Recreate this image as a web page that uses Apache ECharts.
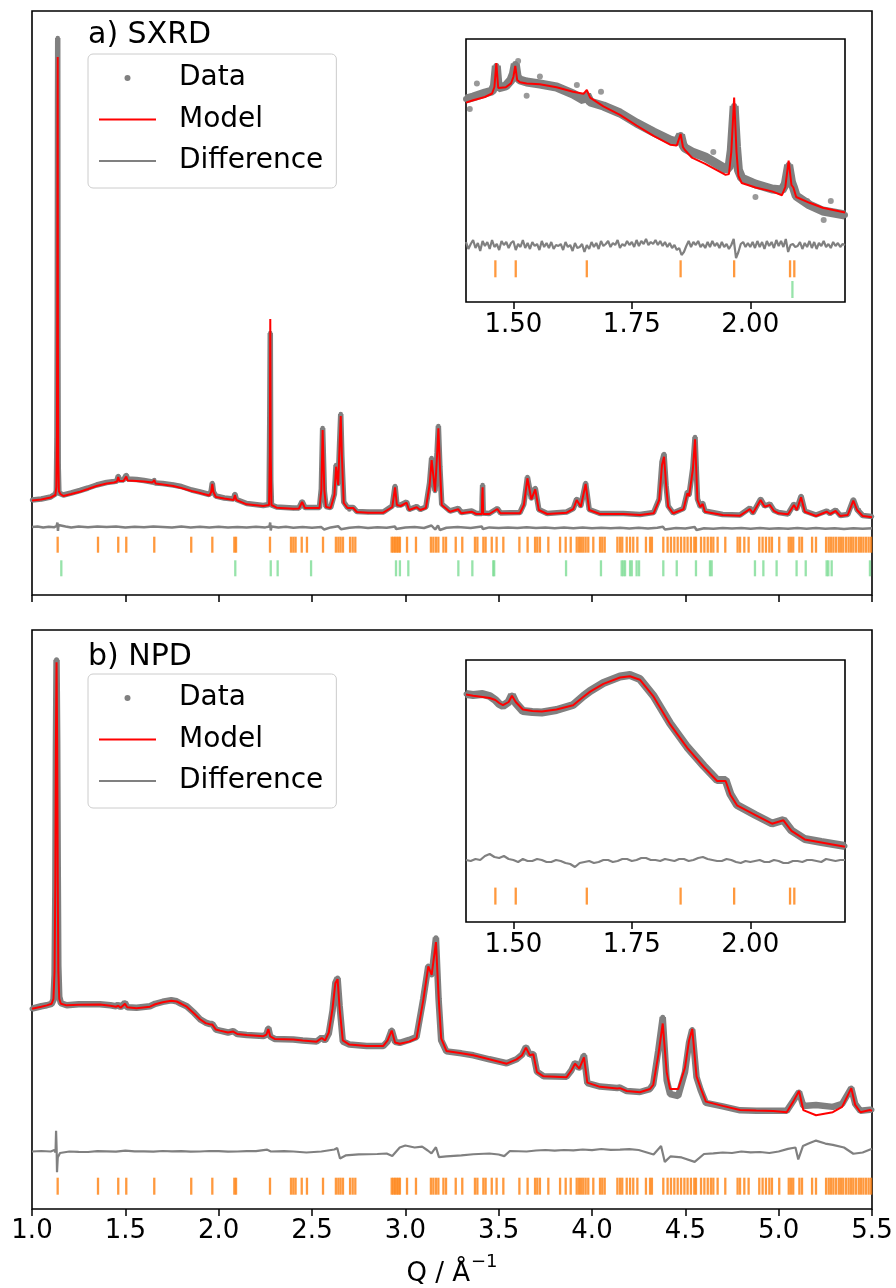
<!DOCTYPE html>
<html>
<head>
<meta charset="utf-8">
<title>SXRD / NPD refinement</title>
<script src="https://cdn.jsdelivr.net/npm/echarts@6.0.0/dist/echarts.min.js"></script>
<style>
    *{ margin: 0; padding: 0; }
    body{ background: #fff; }
    #main{ width: 896px; height: 1288px; }
</style>
</head>
<body>
<div id="main"></div>
<script>
// intensities are arbitrary units

// a) SXRD full range
var sxrdQ = [
    1.000,1.050,1.100,1.125,1.1305,1.1335,1.1355,1.1368,1.1378,1.1390,
    1.1405,1.1440,1.152,1.168,1.210,1.257,1.300,1.346,1.400,1.440,
    1.455,1.462,1.468,1.490,1.505,1.512,1.560,1.600,1.645,1.655,
    1.662,1.700,1.757,1.800,1.855,1.900,1.950,1.960,1.966,1.972,
    1.985,2.030,2.080,2.087,2.095,2.150,2.239,2.270,2.274,2.2765,
    2.279,2.283,2.310,2.400,2.430,2.447,2.462,2.500,2.540,2.550,
    2.557,2.566,2.575,2.600,2.620,2.629,2.640,2.648,2.654,2.660,
    2.670,2.690,2.700,2.721,2.740,2.800,2.882,2.930,2.945,2.955,
    2.975,3.007,3.020,3.061,3.080,3.110,3.130,3.141,3.159,3.170,
    3.177,3.185,3.195,3.239,3.284,3.300,3.355,3.380,3.410,3.412,
    3.414,3.417,3.450,3.493,3.510,3.614,3.635,3.654,3.675,3.696,
    3.715,3.760,3.864,3.900,3.918,3.940,3.966,3.985,4.043,4.168,
    4.257,4.330,4.360,4.375,4.386,4.397,4.408,4.435,4.490,4.511,
    4.520,4.540,4.552,4.565,4.580,4.593,4.605,4.700,4.793,4.846,
    4.862,4.903,4.925,4.953,4.975,5.000,5.050,5.082,5.097,5.120,
    5.140,5.200,5.257,5.275,5.305,5.330,5.370,5.400,5.420,5.430,
    5.450,5.500
];
var sxrdCalc = [
    94.5,95.5,97.5,100,108,160,300,480,538,250,
    135,104,101,99,101,103.3,106,109,111.5,112.5,
    113.5,118,114,114,118.5,114.5,114,113.5,112.5,115,
    111.5,110.5,109,107,104,102,99.5,103,111,103,
    98,96.5,95,100,95,90.7,89,90,140,276,
    140,90,87.3,86.3,86.5,93,87,87,87,105,
    165,105,88,87,100,128.3,110,150,179,140,
    92,87,85,87,83,82.3,82.3,88,107.7,90,
    89,92.3,85,87.7,85,87,110,135,103.3,140,
    166.7,130,90,83.3,85.7,81.7,83.3,81,81,100,
    107.7,81,81,86,81.7,81.7,90,116.7,95.7,105.7,
    85,81,82.3,86,95,88.3,111,85,81,81,
    80,81.7,95,130,138.3,110,88.3,81.7,85.7,101.7,
    99,125,155.7,95,88,91,83.3,80,79.3,86,
    81.7,95,88.3,90,84,81.7,80.7,90,85,97.7,
    83.3,79,83.3,81,84,79,80,94.3,85,85,
    79,77.7
];
var sxrdObs = [
    95,96,98,101,104,156,278,496,557,246,
    129,102,101.5,100,102,104.5,107,110,112.5,113.5,
    114,119,115,115,120,116,115.5,114.5,113,115,
    112,111.5,110,108.5,105,103,100.5,104,112,103,
    99,97,96,101,95.5,91.5,89.5,90.5,182,262,
    115,90,88,87,87,93.5,87.5,87.5,87.5,106,
    167,104,88.5,87.5,101,130,111,152,181,138,
    93,87.5,85.5,87.5,83.5,83,83,89,109,90,
    90,93,85.5,88.5,85.5,88,112,137,104,142,
    169,128,91,84,86.5,82.5,84,81.5,81.5,98,
    110,82,81.5,86.5,82,82.5,91,118,96.5,107,
    85.5,81.5,83,86.5,96,89,112,85.5,81.5,81.5,
    80.5,82.5,96,133,141,109,89,82,86.5,103,
    100,127,158,96,88.5,92,84,80.5,80,87,
    82,96,89,91,84.5,82.5,81,91,86,99,
    84,80,84,81.5,85,79.5,80.5,95.5,85.5,85,
    79.5,78.5
];
var sxrdDiff = [
    [1.00,68],[1.03,68.5],[1.06,67.5],[1.09,68.3],[1.12,67.8],[1.132,69],[1.136,72.5],[1.139,64],[1.142,70],[1.148,68],
    [1.18,68.6],[1.21,67.6],[1.25,68.4],[1.30,67.7],[1.35,68.5],[1.40,67.9],[1.45,68.6],[1.50,67.5],[1.55,68.3],[1.60,67.8],
    [1.65,68.6],[1.70,68.0],[1.75,67.4],[1.80,68.4],[1.85,67.6],[1.90,68.2],[1.95,67.5],[2.00,68.3],[2.05,67.6],[2.10,68.1],
    [2.15,67.4],[2.20,68.2],[2.25,67.6],[2.272,68.5],[2.276,72.5],[2.279,64.5],[2.283,68.5],[2.32,67.5],[2.36,68.2],[2.40,67.3],
    [2.45,68.0],[2.50,67.2],[2.55,67.9],[2.56,69.5],[2.565,65.5],[2.60,67.6],[2.64,68.8],[2.655,65.8],[2.70,67.3],[2.75,67.9],
    [2.80,67.1],[2.85,67.8],[2.90,67.2],[2.945,68.5],[2.95,66],[3.00,67.4],[3.05,67.9],[3.10,67.0],[3.14,69.5],[3.16,65.5],
    [3.175,69.5],[3.185,65],[3.22,67.3],[3.28,67.9],[3.35,67.0],[3.41,68.5],[3.415,66],[3.45,67.6],[3.50,66.9],[3.55,67.6],
    [3.60,67.0],[3.65,67.8],[3.70,66.9],[3.75,67.5],[3.80,66.8],[3.85,67.4],[3.90,66.7],[3.95,67.5],[4.00,66.8],[4.05,67.3],
    [4.10,66.7],[4.15,67.3],[4.20,66.6],[4.25,67.3],[4.30,66.6],[4.35,67.2],[4.38,68.3],[4.39,65.6],[4.45,66.9],[4.50,66.4],
    [4.55,68],[4.56,65],[4.60,66.8],[4.65,66.3],[4.70,67.0],[4.75,66.4],[4.80,67.0],[4.85,66.3],[4.90,66.9],[4.95,66.2],
    [5.00,66.8],[5.05,66.2],[5.10,66.9],[5.15,66.3],[5.20,66.9],[5.25,66.2],[5.30,66.8],[5.35,66.1],[5.40,66.8],[5.45,66.2],
    [5.50,66.7]
];

// a) SXRD inset, 1.4 - 2.2
var sxrdInQ = [
    1.400,1.415,1.440,1.455,1.460,1.464,1.468,1.472,1.484,1.495,
    1.500,1.504,1.508,1.514,1.528,1.556,1.591,1.626,1.648,1.655,
    1.662,1.690,1.725,1.760,1.796,1.831,1.845,1.853,1.858,1.862,
    1.877,1.905,1.948,1.955,1.960,1.966,1.971,1.975,1.982,2.011,
    2.046,2.067,2.074,2.081,2.087,2.091,2.097,2.125,2.153,2.200
];
var sxrdInCalc = [
    199.4,201.7,205,208.5,215,238.9,214,213,214.7,218.6,
    225,236.2,222,219.7,218.6,217.8,214.7,210.2,208.2,212,
    204.4,195.6,187.2,176.5,166.1,157.3,156.6,168,155,152,
    144.3,138.2,127.1,128,150,204.4,150,126,119,114.5,
    110.6,106.8,115,141.3,117,114.5,105,99.2,94.2,89.6
];
var sxrdInObs = [
    203,205,209,211,216,236,214,214,216,222,
    228,238,225,222,220,218,215,208,202,207,
    200,196,189,179,170,162,160,167,157,154,
    150,145,133,134,152,196,155,132,124,118,
    113,112,118,137,120,115,106,97,91,87
];
var sxrdInStray = [
    [1.408,193],[1.423,218.6],[1.510,241],[1.528,206.3],[1.556,225.5],[1.634,217],
    [1.685,210.2],[1.922,150],[2.011,105],[2.039,114.5],[2.120,101],[2.155,82],[2.170,101]
];
var sxrdInDiff = [
    [1.400,60],[1.405,53],[1.410,58],[1.415,62],[1.420,54],[1.425,59],[1.430,51],[1.435,61],[1.440,56],[1.445,60],
    [1.450,53],[1.455,62],[1.460,55],[1.465,58],[1.470,52],[1.475,61],[1.480,57],[1.485,60],[1.490,54],[1.495,59],
    [1.500,61],[1.505,52],[1.510,58],[1.515,55],[1.520,62],[1.525,54],[1.530,59],[1.535,53],[1.540,60],[1.545,56],
    [1.550,58],[1.555,52],[1.560,61],[1.565,55],[1.570,59],[1.575,54],[1.580,60],[1.585,53],[1.590,57],[1.595,56],
    [1.600,58],[1.605,52],[1.610,60],[1.615,55],[1.620,57],[1.625,51],[1.630,59],[1.635,54],[1.640,55],[1.645,58],
    [1.650,50],[1.655,57],[1.660,53],[1.665,60],[1.670,55],[1.675,59],[1.680,53],[1.685,61],[1.690,56],[1.695,58],
    [1.700,61],[1.705,55],[1.710,59],[1.715,57],[1.720,62],[1.725,54],[1.730,58],[1.735,56],[1.740,61],[1.745,57],
    [1.750,60],[1.755,55],[1.760,62],[1.765,56],[1.770,61],[1.775,58],[1.780,63],[1.785,57],[1.790,60],[1.795,58],
    [1.800,62],[1.805,57],[1.810,61],[1.815,56],[1.820,60],[1.825,55],[1.830,59],[1.835,54],[1.840,57],[1.845,52],
    [1.850,54],[1.855,47],[1.860,50],[1.865,56],[1.870,61],[1.875,55],[1.880,60],[1.885,57],[1.890,61],[1.895,55],
    [1.900,58],[1.905,54],[1.910,60],[1.915,55],[1.920,61],[1.925,56],[1.930,59],[1.935,54],[1.940,60],[1.945,55],
    [1.950,58],[1.955,53],[1.960,57],[1.965,63],[1.970,44],[1.975,50],[1.980,58],[1.985,60],[1.990,55],[1.995,59],
    [2.000,55],[2.005,60],[2.010,54],[2.015,61],[2.020,55],[2.025,60],[2.030,53],[2.035,61],[2.040,56],[2.045,60],
    [2.050,54],[2.055,62],[2.060,56],[2.065,61],[2.070,55],[2.075,63],[2.080,50],[2.085,57],[2.090,58],[2.095,55],
    [2.100,56],[2.105,60],[2.110,53],[2.115,59],[2.120,55],[2.125,61],[2.130,54],[2.135,60],[2.140,53],[2.145,59],
    [2.150,56],[2.155,61],[2.160,55],[2.165,58],[2.170,54],[2.175,60],[2.180,56],[2.185,59],[2.190,55],[2.195,58],
    [2.200,57]
];

// b) NPD full range
var npdQ = [
    1.000,1.050,1.079,1.105,1.115,1.121,1.125,1.128,1.1315,1.135,
    1.138,1.141,1.146,1.155,1.186,1.250,1.364,1.420,1.450,1.462,
    1.475,1.498,1.510,1.560,1.632,1.660,1.700,1.746,1.775,1.800,
    1.829,1.870,1.900,1.930,1.954,1.966,1.985,2.007,2.050,2.078,
    2.100,2.150,2.240,2.256,2.266,2.276,2.300,2.400,2.450,2.525,
    2.552,2.570,2.590,2.610,2.625,2.637,2.648,2.665,2.700,2.793,
    2.882,2.905,2.927,2.945,2.970,3.020,3.060,3.096,3.123,3.141,
    3.164,3.178,3.192,3.220,3.300,3.364,3.450,3.543,3.596,3.625,
    3.646,3.667,3.686,3.705,3.740,3.864,3.890,3.909,3.932,3.957,
    3.975,4.043,4.135,4.150,4.186,4.257,4.310,4.328,4.355,4.379,
    4.400,4.418,4.462,4.498,4.520,4.537,4.560,4.582,4.610,4.700,
    4.793,4.880,4.971,5.043,5.078,5.109,5.132,5.200,5.290,5.340,
    5.389,5.410,5.438,5.489,5.500
];
var npdCalc = [
    202,204,205.4,207,212,240,330,466,551.4,466,
    330,240,212,207,205.4,206,206.3,205,204,205,
    203,207,203.5,202.5,204.1,206.5,208.5,210,209.3,207,
    204.1,197,191.4,187.5,186.2,186,181,179.9,178,179,
    176.5,175.6,174.3,176,181.6,174,171.5,170.9,170,168.8,
    172.5,170,178,202,227.6,231.8,202,170,165.8,164.5,
    164.5,170,180,168,166.6,168.8,172.2,210.5,244.6,236.1,
    269.3,215,172,159.4,157,155.1,151,146.6,150.9,155,
    162.8,155.1,156,138.1,133.8,133,140,146.6,141.5,153,
    127.5,123.2,121.5,121.9,119,117.7,121,125.3,155,187.1,
    138.1,121,121,142.4,170,181.6,133.8,121.9,108.3,104,
    99.8,99.3,98.9,97.6,108.3,119,99.8,94.6,97.6,103,
    121.9,105,97.6,99.8,99
];
var npdObs = [
    202,204.5,205.5,207,211,236,320,460,554,470,
    340,245,214,207.5,205.5,206.5,206.5,205.5,204.5,206,
    203.5,208,203.5,203,204.5,207,209,210.5,209.5,207,
    204.5,197.5,191.5,188,186.5,186.5,181,180,178,179.5,
    176.5,175.5,174.5,176,182.5,174,171.5,171,170,169,
    173,170,177,200,228,233,205,169,166,164.5,
    164.5,169,180.5,168.5,167.5,170.5,173.5,212,245,236,
    273.6,212,170,159,157,155,151,147,151,155.5,
    163.5,155.5,156.5,138.5,134,133.5,140,147.5,142,155,
    127,123.5,122,122.5,119,118,121,126,160,193.5,
    130,116,114,138,168,181,133,120,107,103.5,
    99.5,99,99,99,109,118,104,105,103,106,
    122,106,99,100,100
];
var npdDiff = [
    [1.00,58],[1.05,58.5],[1.10,58],[1.12,59.5],[1.126,57],[1.129,79],[1.132,60],[1.134,37],[1.138,52],[1.150,56.5],
    [1.20,58],[1.25,57.6],[1.30,57.5],[1.35,58.3],[1.40,58.2],[1.45,57.8],[1.50,58.8],[1.55,58.1],[1.60,58.2],[1.65,57.9],
    [1.70,58.5],[1.75,58.1],[1.80,58.4],[1.85,57.8],[1.90,58],[1.95,58.5],[2.00,58.3],[2.05,57.9],[2.10,58],[2.15,58.4],
    [2.20,58.4],[2.26,59.8],[2.28,58],[2.35,58.3],[2.40,58],[2.47,57],[2.55,58],[2.62,60],[2.635,61.5],[2.650,51],
    [2.680,54],[2.75,55],[2.85,55.5],[2.90,56],[2.93,53.5],[2.97,62],[3.00,64],[3.05,62],[3.09,63],[3.12,59],
    [3.14,56],[3.164,62.3],[3.180,52.3],[3.22,53],[3.30,54],[3.364,55.2],[3.45,56],[3.50,55],[3.53,53.3],[3.56,58.5],
    [3.65,58],[3.70,59],[3.75,59.5],[3.80,58.8],[3.85,59.5],[3.90,59.1],[3.95,60],[4.00,59.4],[4.05,60.5],[4.10,59.6],
    [4.15,59.8],[4.20,60.3],[4.25,59.5],[4.33,55],[4.37,63.5],[4.39,47.5],[4.42,53],[4.48,52],[4.55,47.5],[4.60,55.5],
    [4.65,56.2],[4.70,57],[4.75,56.5],[4.80,58],[4.85,57.2],[4.90,57.5],[4.95,56.5],[5.00,58],[5.05,60.7],[5.09,62],
    [5.105,50],[5.13,63.5],[5.16,66],[5.20,69],[5.25,66],[5.29,64.7],[5.35,62],[5.40,55.7],[5.45,57],[5.50,60.7]
];

// b) NPD inset, 1.4 - 2.2
var npdInQ = [
    1.400,1.415,1.435,1.450,1.462,1.470,1.478,1.490,1.497,1.505,
    1.520,1.540,1.560,1.591,1.626,1.648,1.662,1.690,1.725,1.746,
    1.767,1.796,1.831,1.867,1.902,1.930,1.948,1.958,1.972,2.011,
    2.046,2.070,2.087,2.115,2.150,2.200
];
var npdInCalc = [
    227.4,226.2,225,224,222,219,216.8,220,226.2,220,
    212.5,211,210.4,212.5,216.8,225.3,230.4,238.1,244.5,245.8,
    242.3,225.3,197.6,174.2,155,141,141,127.3,116.7,106.9,
    98.3,101.7,91.1,82.6,79.6,75.3
];
var npdInObs = [
    228,227,228,226,222,218,216,220,227,219,
    211,210,209.5,212,217,226,231,239,245.5,247,
    243,226,198.5,175,156,142,142,128,117,107,
    98.5,102,91.5,83,80,76
];
var npdInDiff = [
    [1.40,62],[1.41,61],[1.42,63],[1.43,62],[1.44,66],[1.45,68],[1.46,65],[1.47,64],[1.48,66],[1.49,63],
    [1.50,62],[1.51,60],[1.52,63],[1.53,61],[1.54,61],[1.55,63],[1.56,62],[1.57,60],[1.58,60],[1.59,62],
    [1.60,61],[1.61,59],[1.62,58],[1.63,55],[1.64,59],[1.65,60],[1.66,61],[1.67,59],[1.68,60],[1.69,62],
    [1.70,62],[1.71,60],[1.72,61],[1.73,63],[1.74,63],[1.75,61],[1.76,62],[1.77,64],[1.78,64],[1.79,62],
    [1.80,62],[1.81,61],[1.82,63],[1.83,62],[1.84,61],[1.85,63],[1.86,63],[1.87,61],[1.88,62],[1.89,64],
    [1.90,65],[1.91,63],[1.92,62],[1.93,61],[1.94,61],[1.95,63],[1.96,62],[1.97,60],[1.98,59],[1.99,61],
    [2.00,60],[2.01,61],[2.02,62],[2.03,60],[2.04,60],[2.05,62],[2.06,61],[2.07,59],[2.08,59],[2.09,61],
    [2.10,61],[2.11,60],[2.12,62],[2.13,62],[2.14,61],[2.15,60],[2.16,63],[2.17,62],[2.18,61],[2.19,62],
    [2.20,62]
];

// reflection positions (Q)
var mainPhaseTicks = [
    1.1375,1.3536,1.462,1.505,1.655,1.853,1.966,2.084,2.093,2.275,
    2.3875,2.400,2.412,2.445,2.473,2.559,2.628,2.641,2.653,2.666,
    2.704,2.718,2.732,2.927,2.936,2.945,2.954,2.963,2.971,3.009,
    3.057,3.137,3.150,3.164,3.177,3.204,3.218,3.270,3.305,3.373,
    3.386,3.418,3.430,3.463,3.489,3.525,3.611,3.655,3.695,3.707,
    3.721,3.766,3.829,3.859,3.886,3.918,3.930,3.941,3.953,3.966,
    3.980,4.007,4.043,4.055,4.068,4.136,4.150,4.162,4.186,4.204,
    4.221,4.243,4.289,4.311,4.321,4.382,4.405,4.423,4.441,4.459,
    4.477,4.495,4.512,4.530,4.548,4.557,4.584,4.602,4.620,4.637,
    4.650,4.673,4.714,4.780,4.793,4.816,4.839,4.896,4.914,4.932,
    4.950,4.964,5.003,5.054,5.066,5.078,5.111,5.125,5.179,5.200,
    5.254,5.268,5.280,5.293,5.307,5.322,5.334,5.346,5.361,5.375,
    5.388,5.400,5.414,5.429,5.441,5.454,5.468,5.482,5.495
];
var secondPhaseTicks = [
    1.157,2.089,2.279,2.316,2.495,2.950,2.971,3.016,3.284,3.359,
    3.471,3.476,3.861,4.048,4.159,4.168,4.177,4.204,4.213,4.239,
    4.252,4.382,4.454,4.557,4.632,4.641,4.873,4.918,4.989,5.096,
    5.145,5.257,5.266,5.284,5.489
];
var insetTickLabels = [1.50, 1.75, 2.00];

var gray = '#808080', red = '#ff0000', orange = '#ff7f0e', green = '#7ddc95';
var font = 'DejaVu Sans';

function zip(q, v){
    var out = [];
    for (var i = 0; i < q.length; i++) out.push([q[i], v[i]]);
    return out;
}
function tickRow(list, level, lo, hi){
    return list.filter(function(q){ return q >= lo && q <= hi; }).map(function(q){ return [q, level]; });
}

function dataLine(ax, pts, lw, ss){
    return { name: 'Data', type: 'line', xAxisIndex: ax, yAxisIndex: ax, data: pts,
        symbol: 'circle', symbolSize: ss, showSymbol: true,
        itemStyle: { color: gray }, lineStyle: { color: gray, width: lw }, z: 2 };
}
function modelLine(ax, pts){
    return { name: 'Model', type: 'line', xAxisIndex: ax, yAxisIndex: ax, data: pts,
        symbol: 'none', itemStyle: { color: red }, lineStyle: { color: red, width: 2 }, z: 4 };
}
function diffLine(ax, pts, lw){
    return { name: 'Difference', type: 'line', xAxisIndex: ax, yAxisIndex: ax, data: pts,
        symbol: 'none', itemStyle: { color: gray }, lineStyle: { color: gray, width: lw }, z: 3 };
}
function tickSeries(ax, pts, color, h){
    return { name: 'hkl', type: 'scatter', xAxisIndex: ax, yAxisIndex: ax, data: pts,
        symbol: 'rect', symbolSize: [2.3, h], itemStyle: { color: color }, z: 3 };
}

// legend handles: small dot / short line, with blank corners so the box stays 57x14
var dotIcon = 'path://M0,0L0,0M57,14L57,14M25.5,7A3,3,0,1,1,31.5,7A3,3,0,1,1,25.5,7Z';
var lineIcon = 'path://M0,0L0,0M57,14L57,14M0,6L57,6L57,8L0,8Z';
function legendAt(top){
    return {
        orient: 'vertical', left: 88, top: top, selectedMode: false,
        padding: [9, 13, 12, 11], itemGap: 11.5, itemWidth: 57, itemHeight: 14,
        backgroundColor: 'rgba(255,255,255,0.8)', borderColor: '#cccccc', borderWidth: 1, borderRadius: 5,
        itemStyle: { borderWidth: 0 },
        textStyle: { fontFamily: font, fontSize: 28, color: '#000', lineHeight: 30, padding: [0, 0, 0, 18] },
        data: [ { name: 'Data', icon: dotIcon }, { name: 'Model', icon: lineIcon }, { name: 'Difference', icon: lineIcon } ]
    };
}

function mainX(grid, labels){
    var ax = { gridIndex: grid, type: 'value', min: 1, max: 5.5, interval: 0.5,
        axisLine: { show: false }, splitLine: { show: false },
        axisTick: { show: true, length: 7, lineStyle: { color: '#000', width: 1.5 } },
        axisLabel: { show: labels, margin: 9, fontFamily: font, fontSize: 26, color: '#000',
            formatter: function(v){ return v.toFixed(1); } } };
    if (labels){
        ax.name = '{b|Q / Å}{s|−1}';
        ax.nameLocation = 'middle';
        ax.nameGap = 44;
        ax.nameTextStyle = { fontFamily: font, fontSize: 26, color: '#000',
            rich: {
                b: { fontFamily: font, fontSize: 26, color: '#000', lineHeight: 34, verticalAlign: 'bottom' },
                s: { fontFamily: font, fontSize: 18, color: '#000', lineHeight: 18, verticalAlign: 'top', padding: [0, 0, 0, 1] }
            } };
    }
    return ax;
}
function insetX(grid){
    return { gridIndex: grid, type: 'value', min: 1.4, max: 2.2,
        axisLine: { show: false }, splitLine: { show: false },
        axisTick: { show: true, length: 7, customValues: insetTickLabels, lineStyle: { color: '#000', width: 1.5 } },
        axisLabel: { show: true, margin: 10, customValues: insetTickLabels, fontFamily: font, fontSize: 26, color: '#000',
            formatter: function(v){ return v.toFixed(2); } } };
}
function frame(left, top, width, height, bg){
    return { left: left, top: top, width: width, height: height, show: true,
        borderColor: '#000', borderWidth: 1.6, backgroundColor: bg };
}

var chart = echarts.init(document.getElementById('main'));
chart.setOption({
    animation: false,
    title: [
        { text: 'a) SXRD', left: 88, top: 20, padding: 0,
          textStyle: { fontFamily: font, fontSize: 30, fontWeight: 'normal', color: '#000' } },
        { text: 'b) NPD', left: 88, top: 642, padding: 0,
          textStyle: { fontFamily: font, fontSize: 30, fontWeight: 'normal', color: '#000' } }
    ],
    legend: [ legendAt(54), legendAt(674) ],
    grid: [
        frame(32, 11, 840, 584, 'transparent'),
        frame(466, 39, 379, 263, '#fff'),
        frame(32, 630, 840, 584, 'transparent'),
        frame(466, 660, 379, 262, '#fff')
    ],
    xAxis: [ mainX(0, false), insetX(1), mainX(2, true), insetX(3) ],
    yAxis: [
        { gridIndex: 0, type: 'value', min: 0, max: 584, show: false },
        { gridIndex: 1, type: 'value', min: 0, max: 263, show: false },
        { gridIndex: 2, type: 'value', min: 0, max: 584, show: false },
        { gridIndex: 3, type: 'value', min: 0, max: 262, show: false }
    ],
    series: [
        // a) main
        dataLine(0, zip(sxrdQ, sxrdObs), 5.5, 4.5),
        modelLine(0, zip(sxrdQ, sxrdCalc)),
        diffLine(0, sxrdDiff, 2.5),
        tickSeries(0, tickRow(mainPhaseTicks, 50.3, 1, 5.5), orange, 16),
        tickSeries(0, tickRow(secondPhaseTicks, 26.7, 1, 5.5), green, 16),
        // a) inset
        dataLine(1, zip(sxrdInQ, sxrdInObs), 9, 6),
        { name: 'Data', type: 'scatter', xAxisIndex: 1, yAxisIndex: 1, data: sxrdInStray,
          symbolSize: 6, itemStyle: { color: gray }, z: 2 },
        modelLine(1, zip(sxrdInQ, sxrdInCalc)),
        diffLine(1, sxrdInDiff, 2.2),
        tickSeries(1, tickRow(mainPhaseTicks, 33.2, 1.4, 2.2), orange, 17),
        tickSeries(1, tickRow(secondPhaseTicks, 12.5, 1.4, 2.2), green, 17),
        // b) main
        dataLine(2, zip(npdQ, npdObs), 6.5, 5),
        modelLine(2, zip(npdQ, npdCalc)),
        diffLine(2, npdDiff, 2.2),
        tickSeries(2, tickRow(mainPhaseTicks, 23, 1, 5.5), orange, 17),
        // b) inset
        dataLine(3, zip(npdInQ, npdInObs), 8, 5),
        modelLine(3, zip(npdInQ, npdInCalc)),
        diffLine(3, npdInDiff, 2.2),
        tickSeries(3, tickRow(mainPhaseTicks, 25.9, 1.4, 2.2), orange, 17)
    ]
});
</script>
</body>
</html>
